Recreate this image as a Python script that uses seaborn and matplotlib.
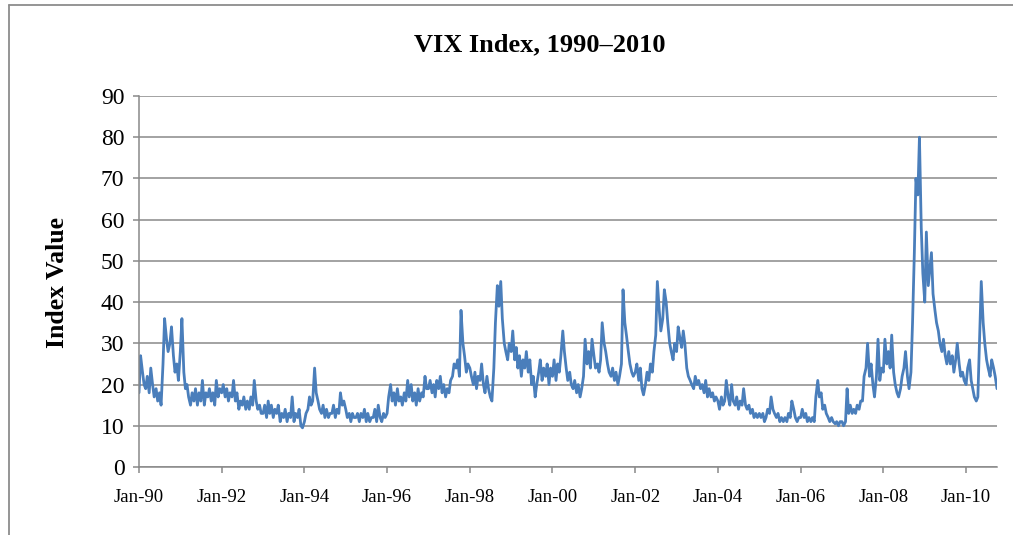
import matplotlib
matplotlib.use("Agg")
import matplotlib.pyplot as plt
from matplotlib.lines import Line2D
import seaborn as sns
import pandas as pd

# Semi-monthly readings (1st and 15th of each month)
vix_1990 = [18, 27, 23, 20, 19, 22, 18, 24, 20, 17, 19, 16, 18, 15, 25, 36, 31, 28, 30, 34, 27, 23, 25, 21]
vix_1991 = [28, 36, 23, 19, 20, 17, 15, 18, 16, 19, 15, 18, 16, 21, 15, 18, 17, 19, 16, 18, 15, 21, 17, 19]
vix_1992 = [18, 20, 17, 19, 16, 18, 17, 21, 16, 18, 14, 16, 15, 17, 14, 16, 14, 17, 15, 21, 16, 14, 15, 13]
vix_1993 = [13, 15, 12, 16, 13, 15, 12, 14, 13, 15, 11, 13, 12, 14, 11, 13, 12, 17, 11, 13, 12, 14, 10, 9.5]
vix_1994 = [11, 13, 14, 17, 15, 16, 24, 18, 16, 14, 13, 15, 12, 14, 12, 13, 13, 15, 12, 14, 13, 18, 15, 16]
vix_1995 = [14, 12, 13, 11, 13, 12, 12, 13, 11, 13, 12, 14, 11, 13, 11, 12, 12, 14, 11, 15, 12, 11, 13, 12]
vix_1996 = [13, 17, 20, 16, 18, 15, 19, 16, 17, 15, 18, 16, 21, 17, 20, 16, 18, 15, 19, 16, 18, 17, 22, 19]
vix_1997 = [19, 21, 18, 20, 17, 21, 19, 22, 18, 20, 17, 19, 18, 21, 22, 25, 24, 26, 22, 38, 30, 27, 23, 25]
vix_1998 = [24, 22, 20, 23, 19, 22, 21, 25, 20, 18, 22, 19, 17, 16, 24, 35, 44, 39, 45, 36, 30, 28, 26, 30]
vix_1999 = [28, 33, 26, 29, 24, 27, 22, 26, 24, 28, 23, 26, 20, 22, 17, 20, 23, 26, 21, 24, 22, 25, 20, 24]
vix_2000 = [22, 26, 21, 25, 23, 27, 33, 28, 24, 21, 23, 20, 19, 21, 18, 20, 17, 19, 22, 31, 25, 28, 24, 31]
vix_2001 = [27, 24, 25, 23, 26, 35, 30, 28, 25, 23, 22, 24, 21, 23, 20, 22, 25, 43, 35, 32, 28, 25, 23, 22]
vix_2002 = [23, 25, 21, 24, 19, 17.5, 20, 23, 21, 25, 23, 28, 32, 45, 38, 33, 36, 43, 40, 35, 30, 28, 26, 30]
vix_2003 = [28, 34, 31, 29, 33, 30, 24, 22, 21, 20, 19, 22, 20, 21, 19, 20, 18, 21, 17, 19, 17, 18, 16, 17]
vix_2004 = [16, 14, 17, 15, 16, 21, 17, 15, 20, 16, 15, 17, 14, 16, 15, 19, 15, 14, 15, 13, 14, 12, 13, 12]
vix_2005 = [13, 12, 13, 11, 12, 14, 13, 17, 14, 13, 12, 13, 11, 12, 11, 12, 11, 13, 12, 16, 14, 12, 11, 12]
vix_2006 = [12, 14, 12, 13, 11, 12, 11, 12, 11, 17, 21, 17, 18, 14, 15, 13, 12, 11, 12, 11, 10.5, 11, 10, 11]
vix_2007 = [11, 10, 11, 19, 13, 15, 13, 14, 13, 15, 14, 16, 16, 22, 24, 30, 22, 25, 20, 17, 22, 31, 21, 24]
vix_2008 = [23, 31, 25, 28, 24, 32, 23, 20, 18, 17, 19, 22, 24, 28, 22, 19, 23, 35, 52, 70, 66, 80, 58, 47]
vix_2009 = [40, 57, 44, 48, 52, 42, 38, 35, 33, 30, 28, 31, 27, 25, 28, 25, 27, 23, 26, 30, 25, 22, 23, 21]
vix_2010 = [20, 24, 26, 21, 19, 17, 16, 17, 32, 45, 35, 30, 26, 24, 22, 26, 24, 22, 19]

values = (vix_1990 + vix_1991 + vix_1992 + vix_1993 + vix_1994 + vix_1995 + vix_1996 +
          vix_1997 + vix_1998 + vix_1999 + vix_2000 + vix_2001 + vix_2002 + vix_2003 +
          vix_2004 + vix_2005 + vix_2006 + vix_2007 + vix_2008 + vix_2009 + vix_2010)
dates = pd.date_range("1990-01-01", periods=len(values), freq="SMS")
df = pd.DataFrame({"date": dates, "vix": values})

tick_years = [1990, 1992, 1994, 1996, 1998, 2000, 2002, 2004, 2006, 2008, 2010]
tick_labels = ["Jan-90", "Jan-92", "Jan-94", "Jan-96", "Jan-98", "Jan-00",
               "Jan-02", "Jan-04", "Jan-06", "Jan-08", "Jan-10"]
y_ticks = [0, 10, 20, 30, 40, 50, 60, 70, 80, 90]

sns.set_theme(style="white")
plt.rcParams["font.family"] = ["Liberation Serif", "DejaVu Serif"]
plt.rcParams["text.color"] = "black"

fig = plt.figure(figsize=(10.13, 5.35), dpi=100)
ax = fig.add_axes([139 / 1013, 1 - 467 / 535, (997 - 139) / 1013, (467 - 96) / 535])

grid_c = "#898989"
sns.lineplot(data=df, x="date", y="vix", ax=ax, color="#4a7ebb", linewidth=2.0)

ax.set_ylim(0, 90)
ax.set_yticks(y_ticks)
ax.set_yticklabels([str(v) for v in y_ticks], fontsize=17)
ax.set_xlim(dates[0], dates[-1])
ax.set_xticks([pd.Timestamp(f"{y}-01-01") for y in tick_years])
ax.set_xticklabels(tick_labels, fontsize=13.5)
ax.yaxis.grid(True, color=grid_c, linewidth=1.1)
ax.xaxis.grid(False)
ax.set_axisbelow(True)
ax.set_xlabel("")
ax.set_ylabel("")
for s in ["top", "right"]:
    ax.spines[s].set_visible(False)
for s in ["left", "bottom"]:
    ax.spines[s].set_color(grid_c)
    ax.spines[s].set_linewidth(1.1)
ax.tick_params(axis="y", which="both", direction="out", length=4.5, width=1.1,
               color=grid_c, pad=6, left=True, labelcolor="black")
ax.tick_params(axis="x", which="both", direction="out", length=4, width=1.1,
               color=grid_c, pad=12, bottom=True, labelcolor="black")

fig.text(540 / 1013, 1 - 45 / 535, "VIX Index, 1990\u20132010", ha="center", va="center",
         fontsize=19, fontweight="bold", color="black")
fig.text(57 / 1013, 1 - 282 / 535, "Index Value", ha="center", va="center",
         rotation=90, fontsize=18.5, fontweight="bold", color="black")

# outer chart frame (left and top edges visible)
fig.add_artist(Line2D([8.5 / 1013, 8.5 / 1013], [0, 1 - 5 / 535], transform=fig.transFigure,
                      color="#8c8c8c", linewidth=1.3))
fig.add_artist(Line2D([8.5 / 1013, 1], [1 - 5 / 535, 1 - 5 / 535], transform=fig.transFigure,
                      color="#8c8c8c", linewidth=1.3))

fig.savefig("out.png", dpi=100)
